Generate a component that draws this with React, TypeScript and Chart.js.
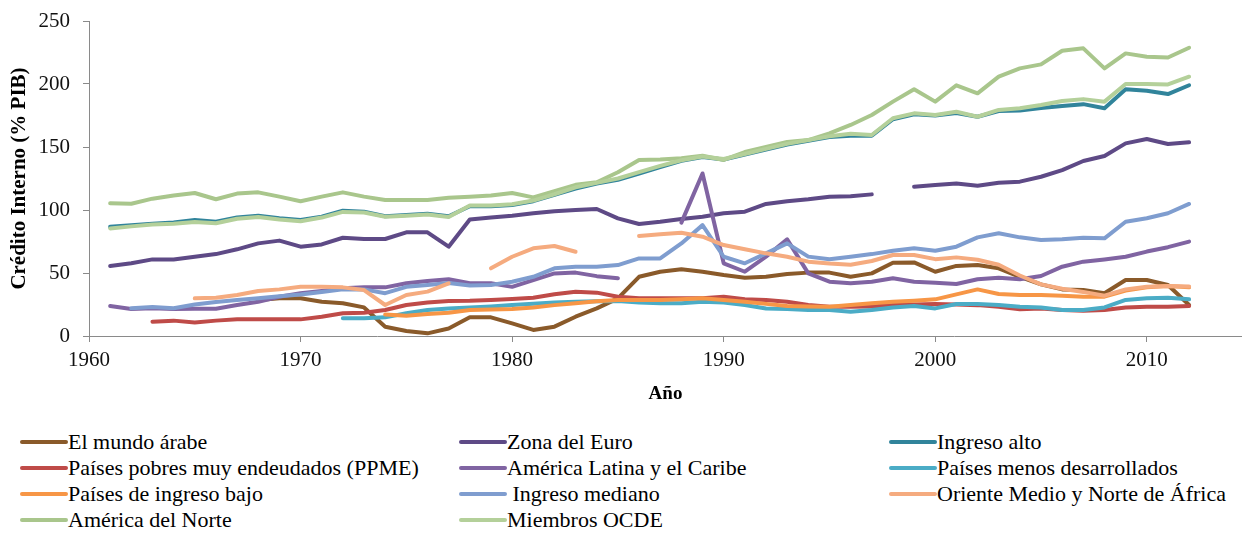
import React, { useEffect, useRef } from 'react';
import { Chart, registerables } from 'chart.js';

Chart.register(...registerables);

const years = [
  1961, 1962, 1963, 1964, 1965, 1966, 1967, 1968, 1969, 1970,
  1971, 1972, 1973, 1974, 1975, 1976, 1977, 1978, 1979, 1980,
  1981, 1982, 1983, 1984, 1985, 1986, 1987, 1988, 1989, 1990,
  1991, 1992, 1993, 1994, 1995, 1996, 1997, 1998, 1999, 2000,
  2001, 2002, 2003, 2004, 2005, 2006, 2007, 2008, 2009, 2010,
  2011, 2012,
];

const mundoArabe = [
  null, null, null, null, null, null, null, 28.6, 29.9, 29.9,
  27.2, 26, 22.7, 7.4, 4, 2.1, 6, 14.8, 14.8, 10,
  4.8, 7.4, 15.3, 21.9, 29.9, 47, 51, 52.9, 51, 48.4,
  46.3, 47, 49.2, 50.3, 50.3, 47, 49.7, 58.2, 58.4, 51,
  55.6, 56.3, 53.7, 47, 41, 37, 36.5, 33.9, 44.4, 44.4,
  40.5, 24.6,
];

const zonaEuro = [
  55.6, 57.7, 60.8, 60.8, 62.9, 65, 68.8, 73.5, 75.7, 70.9,
  72.7, 78, 77, 77, 82.3, 82.3, 70.9, 92.5, 94, 95.5,
  97.4, 99, 100, 100.8, 93.4, 88.9, 90.7, 92.9, 94.7, 97.4,
  98.7, 104.8, 107, 108.5, 110.6, 111, 112.4, null, 118.5, 119.8,
  121, 119.3, 121.7, 122.5, 126.4, 131.7, 138.9, 142.9, 152.9, 156.3,
  152.4, 153.7,
];

const ingresoAlto = [
  86.7, 88, 89, 90, 92, 90.7, 94, 95.5, 93.4, 92,
  94.7, 99.5, 98.7, 95, 96, 97, 95, 103, 103, 104,
  107, 112, 117, 121, 124, 129, 134, 139, 142, 140,
  144, 148, 152, 155, 158, 159, 159, 172, 176, 175,
  177, 174, 178.5, 179, 181, 182.5, 184, 180.7, 195.8, 194.7,
  192, 199,
];

const ppme = [
  null, null, 11.4, 12.2, 10.8, 12.2, 13.2, 13.2, 13.2, 13.2,
  15.3, 18, 18.5, 20.6, 24.6, 26.5, 27.8, 28, 28.6, 29.4,
  30.4, 33.1, 35.2, 34.4, 31.2, 29.9, 29.9, 29.9, 29.9, 31.2,
  29.1, 28.6, 27.2, 24.6, 23.3, 23.3, 23.5, 24.6, 25, 25.4,
  25, 24.5, 23.3, 21.2, 21.9, 20.6, 20.1, 20.6, 22.7, 23.3,
  23.3, 23.8,
];

const americaLatina = [
  23.8, 21.5, 22, 21.5, 21.7, 21.7, 24.6, 27.2, 31.2, 33.9,
  35.7, 37.8, 38.6, 38.6, 41.8, 43.7, 45, 41.8, 41.8, 39,
  44.4, 49.7, 50.3, 47.5, 45.8, null, null, 90, 129, 57.7,
  51, 63, 76.7, 49.7, 43.1, 41.8, 43.1, 45.8, 43.1, 42.3,
  41.3, 45, 46.3, 45, 47.6, 55, 59, 60.8, 62.9, 67,
  70.5, 74.9,
];

const menosDesarrollados = [
  null, null, null, null, null, null, null, null, null, null,
  null, 14, 14, 14.8, 18, 20.6, 21.9, 22.7, 23.5, 24.6,
  25.5, 26.5, 27.2, 27.5, 27.8, 26.5, 26, 26, 27.2, 26.5,
  24.6, 21.9, 21.4, 20.6, 20.6, 19.3, 20.6, 22.7, 23.8, 21.9,
  25.4, 25.4, 24.6, 23.3, 22.7, 20.6, 20.6, 22.7, 28.6, 29.9,
  30.4, 29.1,
];

const ingresoBajo = [
  null, null, null, null, null, null, null, null, null, null,
  null, null, null, 17, 16, 17.5, 18.5, 20.6, 21, 21.5,
  22.7, 24.5, 26, 27.5, 28.6, 28.6, 28.6, 29.2, 29.9, 28.6,
  27.2, 25.5, 23.8, 23.5, 23.3, 24.6, 26, 27.2, 28, 29.1,
  33, 37, 33.3, 32.5, 32.5, 32, 31.2, 31.2, 36, 38.6,
  39.7, 38.6,
];

const ingresoMediano = [
  null, 22, 23, 22, 25, 27, 28.5, 30, 31.5, 33,
  35, 37, 37, 34, 39, 40.5, 42, 40, 40.5, 43.1,
  47, 53.7, 55, 55, 56.3, 61.6, 61.6, 73.5, 88, 62.9,
  57.7, 65.6, 73.5, 63, 61, 62.9, 65, 67.7, 69.6, 67.7,
  70.9, 78.3, 81.5, 78.3, 76.2, 76.7, 78, 77.5, 90.7, 93.4,
  97.4, 104.8,
];

const orienteMedio = [
  null, null, null, null, 29.9, 30.4, 32.5, 35.7, 37, 39,
  39, 38.6, 36.5, 24.6, 32.5, 35.2, 41.8, null, 53.7, 62.9,
  69.6, 71.4, 66.9, null, null, 79.4, 80.7, 82, 78.8, 72.2,
  68.8, 65.6, 62.9, 59, 57.5, 56.5, 59.5, 64.3, 64.3, 61,
  62.4, 60.5, 56.5, 48, 41, 37.5, 35, 32, 37, 39,
  39.7, 39.2,
];

const americaNorte = [
  105.3, 105, 109, 111.5, 113.5, 108.5, 113, 114, 110.6, 107,
  110.6, 114, 110.6, 108, 108, 108, 109.8, 110.5, 111.5, 113.5,
  110, 115, 120, 122, 130, 139.7, 140, 141, 143, 139.7,
  146, 150, 154, 155.5, 160.8, 167.5, 175.4, 186, 195.8, 186,
  199, 192.6, 205.8, 212.4, 215.6, 226.4, 228.3, 212.4, 224.3, 221.7,
  221, 228.8,
];

const miembrosOCDE = [
  85.4, 87, 88.5, 89, 90.5, 89.5, 93, 94.5, 92.5, 91,
  94, 98.5, 98, 94.7, 95.5, 96.5, 94.5, 103.5, 103.5, 104.5,
  107.5, 112.5, 118, 121.5, 125, 130, 135, 139.5, 142.5, 140.5,
  144.5, 148.5, 152.5, 155.5, 158.5, 160.5, 159.5, 172.8, 176.7, 175.4,
  178, 174, 179.4, 180.7, 183.3, 186.5, 188, 186, 200, 200,
  199.7, 205.8,
];

const seriesNames = [
  'El mundo árabe',
  'Zona del Euro',
  'Ingreso alto',
  'Países pobres muy endeudados (PPME)',
  'América Latina y el Caribe',
  'Países menos desarrollados',
  'Países de ingreso bajo',
  ' Ingreso mediano',
  'Oriente Medio y Norte de África',
  'América del Norte',
  'Miembros OCDE',
];

const seriesValues = [
  mundoArabe, zonaEuro, ingresoAlto, ppme, americaLatina, menosDesarrollados,
  ingresoBajo, ingresoMediano, orienteMedio, americaNorte, miembrosOCDE,
];

const seriesColors = [
  '#8a5a2a', '#5e4a86', '#31849b', '#bf4b48', '#8064a2', '#4bacc6',
  '#f79646', '#7f9dcf', '#f5ab7f', '#a9c68c', '#b4d09a',
];

const xTickLabels = [1960, 1970, 1980, 1990, 2000, 2010];
const yTickLabels = [0, 50, 100, 150, 200, 250];

const SERIF = '"Liberation Serif", "DejaVu Serif", "Noto Serif", Times, serif';

export default function App() {
  const canvasRef = useRef<HTMLCanvasElement | null>(null);

  useEffect(() => {
    const canvas = canvasRef.current;
    if (!canvas) return;
    const datasets = seriesNames.map((name, i) => ({
      label: name,
      data: years.map((yr, j) => ({ x: yr, y: seriesValues[i][j] })),
      borderColor: seriesColors[i],
      backgroundColor: seriesColors[i],
      borderWidth: 4,
      pointRadius: 0,
      tension: 0,
      spanGaps: false,
      borderCapStyle: 'round' as const,
      borderJoinStyle: 'round' as const,
      order: seriesNames.length - i,
    }));
    const chart = new Chart(canvas, {
      type: 'line',
      data: { datasets },
      options: {
        animation: false,
        responsive: false,
        layout: { padding: { top: 21, right: 0, left: 0, bottom: 0 } },
        plugins: { legend: { display: false }, tooltip: { enabled: false } },
        scales: {
          x: {
            type: 'linear',
            min: 1960,
            max: 2014.5,
            afterFit: (s: any) => { s.height = 74; s.paddingLeft = 0; s.paddingRight = 0; },
            afterBuildTicks: (s: any) => {
              s.ticks = xTickLabels.map((v) => ({ value: v }));
            },
            ticks: {
              stepSize: 10,
              includeBounds: false,
              padding: 6,
              color: '#111',
              font: { family: SERIF, size: 21 },
              maxRotation: 0,
              callback: (v: any) => String(v),
            },
            grid: { display: true, drawOnChartArea: false, drawTicks: true, tickLength: 6, color: '#8a8a8a' },
            border: { display: true, color: '#8a8a8a', width: 1 },
            title: {
              display: true,
              text: 'Año',
              color: '#000',
              font: { family: SERIF, size: 19, weight: 'bold' },
              padding: { top: 0, bottom: 5 },
            },
          },
          y: {
            type: 'linear',
            min: 0,
            max: 250,
            afterFit: (s: any) => { s.width = 89; s.paddingTop = 0; s.paddingBottom = 0; },
            afterBuildTicks: (s: any) => {
              s.ticks = yTickLabels.map((v) => ({ value: v }));
            },
            ticks: {
              stepSize: 50,
              padding: 13,
              color: '#111',
              font: { family: SERIF, size: 21 },
              callback: (v: any) => String(v),
            },
            grid: { display: true, drawOnChartArea: false, drawTicks: true, tickLength: 6, color: '#8a8a8a' },
            border: { display: true, color: '#8a8a8a', width: 1 },
            title: {
              display: true,
              text: 'Crédito Interno (% PIB)',
              color: '#000',
              font: { family: SERIF, size: 21, weight: 'bold' },
              padding: { top: 7, bottom: 0 },
            },
          },
        },
      },
    });
    return () => chart.destroy();
  }, []);

  const legendCols = [20, 459, 889];
  const legendRows = [442, 468, 494, 520];

  return (
    <div style={{ position: 'fixed', left: 0, top: 0, width: 1242, height: 553, background: '#fff', overflow: 'hidden' }}>
      <canvas ref={canvasRef} width={1242} height={410} style={{ position: 'absolute', left: 0, top: 0, width: 1242, height: 410 }} />
      {seriesNames.map((name, i) => {
        const col = i % 3;
        const row = Math.floor(i / 3);
        return (
          <div
            key={name}
            style={{
              position: 'absolute',
              left: legendCols[col],
              top: legendRows[row] - 13,
              height: 26,
              display: 'flex',
              alignItems: 'center',
              whiteSpace: 'pre',
              fontFamily: SERIF,
              fontSize: 22,
              color: '#000',
            }}
          >
            <span style={{ display: 'inline-block', width: 48, height: 4, borderRadius: 2, background: seriesColors[i] }} />
            <span>{name}</span>
          </div>
        );
      })}
    </div>
  );
}
